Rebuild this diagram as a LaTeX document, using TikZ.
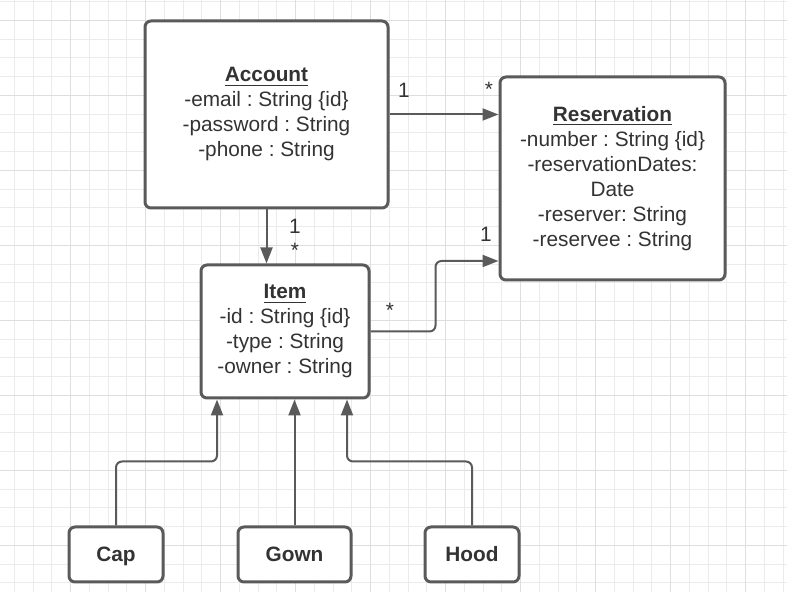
\documentclass[tikz,border=0pt]{standalone}
\usepackage{fontspec}
\setmainfont{Liberation Sans}
\usetikzlibrary{arrows.meta}
\frenchspacing

\definecolor{edgegray}{HTML}{5A5A5A}
\definecolor{textgray}{HTML}{333333}
\definecolor{gridminor}{HTML}{EBEBEB}
\definecolor{gridmajor}{HTML}{DEDEDE}

\begin{document}
\begin{tikzpicture}[x=0.5pt,y=-0.5pt]
	\tikzset{
		classbox/.style={draw=edgegray, line width=1.5pt, rounded corners=3pt, fill=white,
			align=center, text=textgray, font=\fontsize{10.4}{12.5}\selectfont},
		subbox/.style={classbox, minimum width=47pt, minimum height=27.5pt, text height=9.5pt, text depth=2.2pt,
			font=\fontsize{10.4}{12.5}\selectfont\bfseries},
		conn/.style={draw=edgegray, line width=1pt, rounded corners=3pt,
			-{Triangle[length=8pt,width=6pt]}},
		mult/.style={text=textgray, font=\fontsize{10.4}{12.5}\selectfont, inner sep=0pt}
	}
	\useasboundingbox (0,0) rectangle (787,592);
	\fill[white] (0,0) rectangle (787,592);

	% Draw the grid
	\foreach \i in {0,...,41} \draw[gridminor, line width=0.5pt] ({14.3+18.75*\i},0) -- ++(0,592);
	\foreach \j in {0,...,31} \draw[gridminor, line width=0.5pt] (0,{1.7+18.75*\j}) -- ++(787,0);
	\foreach \i in {1,...,10} \draw[gridmajor, line width=0.6pt] ({-4.3+75*\i},0) -- ++(0,592);
	\foreach \j in {0,...,7} \draw[gridmajor, line width=0.6pt] (0,{20.4+75*\j}) -- ++(787,0);

	% classes
	\node[classbox, minimum width=121.5pt, minimum height=93.5pt] (account) at (266.5,114.5)
		{\underline{\textbf{Account}}\\-email : String \{id\}\\-password : String\\-phone : String};
	\node[classbox, minimum width=112.5pt, minimum height=101.5pt] (reservation) at (612.5,178.5)
		{\underline{\textbf{Reservation}}\\-number : String \{id\}\\-reservationDates:\\Date\\-reserver: String\\-reservee : String};
	\node[classbox, minimum width=84pt, minimum height=66.5pt] (item) at (285,331.5)
		{\underline{\textbf{Item}}\\-id : String \{id\}\\-type : String\\-owner : String};

	\node[subbox] (cap) at (116,554.5) {Cap};
	\node[subbox, minimum width=56.5pt] (gown) at (294.5,554.5) {Gown};
	\node[subbox] (hood) at (472,554.5) {Hood};

	% associations
	\draw[conn] (account.east) -- (account.east -| reservation.west);
	\draw[conn] (account.south) -- (account.south |- item.north);
	\draw[conn] (item.east) -- ++(65,0) |- ([yshift=-41.25pt]reservation.west);

	% inheritance
	\draw[conn] (cap.north) -- ++(0,-64) -| ([xshift=-34pt]item.south);
	\draw[conn] (gown.north) -- (gown.north |- item.south);
	\draw[conn] (hood.north) -- ++(0,-64) -| ([xshift=31pt]item.south);

	% multiplicities
	\node[mult] (accres1) at (404,90) {1};
	\node[mult] (accresn) at (489,89) {*};
	\node[mult] (accitem1) at (295,226) {1};
	\node[mult] (accitemn) at (295,250) {*};
	\node[mult] (itemresn) at (390,310) {*};
	\node[mult] (itemres1) at (486,234) {1};
\end{tikzpicture}
\end{document}
